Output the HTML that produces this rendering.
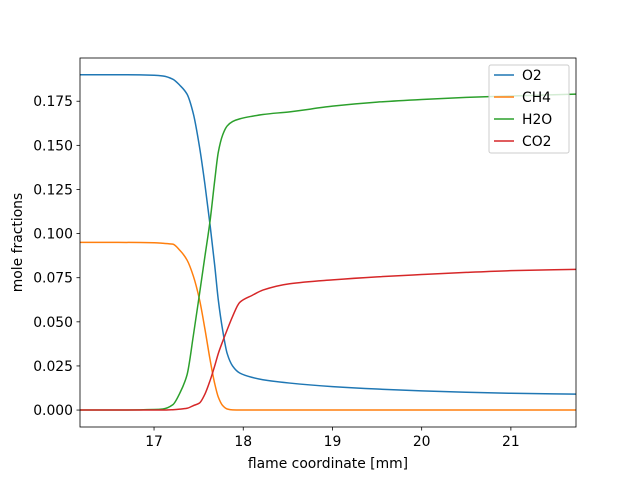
<!DOCTYPE html>
<html><head><meta charset="utf-8"><style>
body{margin:0;background:#fff}
svg{display:block;font-family:"DejaVu Sans","Liberation Sans",sans-serif}
</style></head><body>
<svg id="chart" width="640" height="480" viewBox="0 0 640 480">
<rect width="640" height="480" fill="#fff"/>
<g id="marks"></g>
<g id="axes"></g>
</svg>
<script>
const xs   = [16.17,16.6,17.0,17.1,17.21,17.29,17.37,17.44,17.51,17.57,17.63,17.68,17.72,17.77,17.82,17.88,17.96,18.1,18.22,18.52,19,19.5,20,20.5,21,21.73];
const o2   = [0.19,0.19,0.1897,0.1893,0.1875,0.184,0.179,0.168,0.149,0.128,0.104,0.082,0.0625,0.045,0.032,0.025,0.021,0.0185,0.0172,0.0153,0.0133,0.0119,0.0109,0.0101,0.0095,0.009];
const ch4  = [0.095,0.095,0.0948,0.0945,0.094,0.0905,0.085,0.076,0.0625,0.046,0.028,0.015,0.0074,0.0025,0.0006,0.0001,0,0,0,0,0,0,0,0,0,0];
const h2o  = [0,0,0.0003,0.0006,0.003,0.0097,0.02,0.042,0.066,0.087,0.108,0.13,0.146,0.156,0.161,0.1635,0.165,0.1665,0.1675,0.169,0.1722,0.1745,0.176,0.1772,0.178,0.179];
const co2  = [0,0,0,0,0.0002,0.0005,0.001,0.0025,0.004,0.009,0.017,0.025,0.032,0.039,0.0455,0.053,0.061,0.065,0.068,0.0716,0.0738,0.0755,0.0768,0.078,0.079,0.0797];
const seriesNames = ["O2","CH4","H2O","CO2"];
const xTicks = [17,18,19,20,21];
const yTicks = [0,0.025,0.05,0.075,0.1,0.125,0.15,0.175];

const L=80,R=576,T=58,B=427, X0=16.17,X1=21.73, Y0=-0.0096,Y1=0.1995;
const sx=v=>L+(v-X0)/(X1-X0)*(R-L);
const sy=v=>B-(v-Y0)/(Y1-Y0)*(B-T);
const NS="http://www.w3.org/2000/svg";
function mk(tag,attrs,parent){const e=document.createElementNS(NS,tag);for(const k in attrs)e.setAttribute(k,attrs[k]);parent.appendChild(e);return e;}
const marks=document.getElementById('marks'), axes=document.getElementById('axes');
const colors=["#1f77b4","#ff7f0e","#2ca02c","#d62728"];
const data=[o2,ch4,h2o,co2];
// monotone cubic (Fritsch-Carlson) path
function pathFor(ys){
  const px=xs.map(sx), py=ys.map(sy), n=px.length;
  const d=[],m=new Array(n);
  for(let i=0;i<n-1;i++) d.push((py[i+1]-py[i])/(px[i+1]-px[i]));
  m[0]=d[0]; m[n-1]=d[n-2];
  for(let i=1;i<n-1;i++){
    if(d[i-1]*d[i]<=0) m[i]=0;
    else {const h0=px[i]-px[i-1],h1=px[i+1]-px[i];const w1=2*h1+h0,w2=h1+2*h0;m[i]=(w1+w2)/(w1/d[i-1]+w2/d[i]);}
  }
  let s=`M${px[0]},${py[0]}`;
  for(let i=0;i<n-1;i++){
    const h=(px[i+1]-px[i])/3;
    s+=` C${px[i]+h},${py[i]+m[i]*h} ${px[i+1]-h},${py[i+1]-m[i+1]*h} ${px[i+1]},${py[i+1]}`;
  }
  return s;
}
const cp=mk('clipPath',{id:'clip'},marks);
mk('rect',{x:L,y:T,width:R-L,height:B-T},cp);
data.forEach((ys,i)=>{
  const el=mk('path',{d:pathFor(ys),fill:'none',stroke:colors[i],'stroke-width':1.5,'clip-path':'url(#clip)'},marks);
  
  
});
const fr=mk('rect',{x:L,y:T,width:R-L,height:B-T,fill:'none',stroke:'#000','stroke-width':0.8},axes);


xTicks.forEach(v=>{
  const x=sx(v);
  mk('line',{x1:x,x2:x,y1:B,y2:B+3.5,stroke:'#000','stroke-width':0.8},axes);
  const t=mk('text',{x:x,y:B+19,'text-anchor':'middle','font-size':13.9,fill:'#000'},axes);t.textContent=v;
  
  
});
yTicks.forEach(v=>{
  const y=sy(v);
  mk('line',{x1:L,x2:L-3.5,y1:y,y2:y,stroke:'#000','stroke-width':0.8},axes);
  const t=mk('text',{x:L-7,y:y+5,'text-anchor':'end','font-size':13.9,fill:'#000'},axes);t.textContent=v.toFixed(3);
  
  
});
const xt=mk('text',{x:(L+R)/2,y:468,'text-anchor':'middle','font-size':13.9,fill:'#000'},axes);xt.textContent='flame coordinate [mm]';


const yt=mk('text',{x:22,y:(T+B)/2,'text-anchor':'middle','font-size':13.9,fill:'#000',transform:`rotate(-90 22 ${(T+B)/2})`},axes);yt.textContent='mole fractions';


const lg=mk('g',{},axes);


mk('rect',{x:489,y:65,width:80,height:88,rx:2,fill:'#fff','fill-opacity':0.8,stroke:'#ccc','stroke-width':1},lg);
seriesNames.forEach((n,i)=>{
  const y=75+i*22;
  const g=mk('g',{},lg);
  
  
  mk('line',{x1:494,x2:514,y1:y,y2:y,stroke:colors[i],'stroke-width':1.5},g);
  const t=mk('text',{x:522,y:y+5,'font-size':13.9,fill:'#000'},g);t.textContent=n;
});
</script>
</body></html>
